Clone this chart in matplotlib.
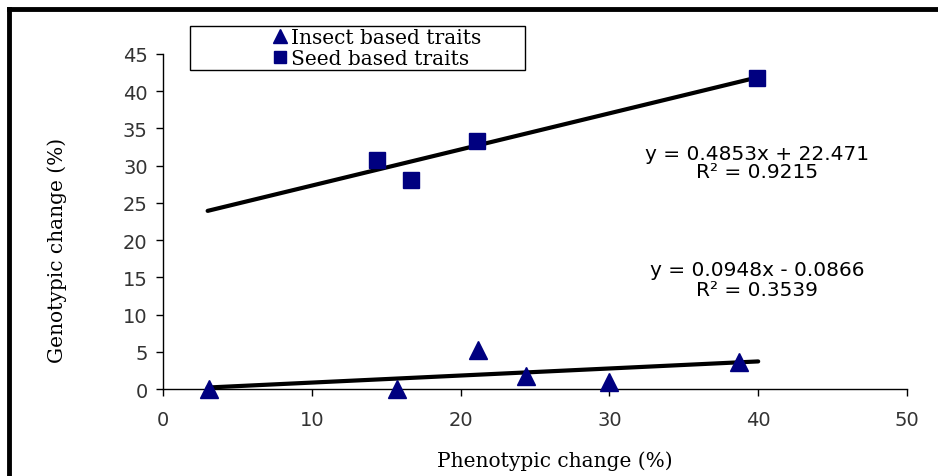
import matplotlib
matplotlib.use("Agg")
import matplotlib.pyplot as plt
from matplotlib.lines import Line2D
from matplotlib.patches import Rectangle
import numpy as np

# Data
insect_x = [3.1, 15.7, 21.2, 24.4, 30.0, 38.7]
insect_y = [0.0, 0.0, 5.2, 1.7, 0.9, 3.6]
seed_x = [14.4, 16.7, 21.1, 39.9]
seed_y = [30.8, 28.1, 33.3, 41.8]
seed_fit = (0.4853, 22.471)
insect_fit = (0.0948, -0.0866)
fit_range = [3, 40]
x_ticks = [0, 10, 20, 30, 40, 50]
y_ticks = [0, 5, 10, 15, 20, 25, 30, 35, 40, 45]

navy = "#000080"
tick_font = "DejaVu Sans"
label_font = "DejaVu Serif"

fig = plt.figure(figsize=(9.38, 4.77), dpi=100)
ax = fig.add_axes([163/938, 1-390/477, (907-163)/938, (390-55)/477])

# outer border lines (top and left)
fig.add_artist(Line2D([9/938, 9/938], [0, 1-10/477], color="black", lw=3.5, transform=fig.transFigure))
fig.add_artist(Line2D([9/938, 1], [1-10/477, 1-10/477], color="black", lw=3.5, transform=fig.transFigure))

ax.plot(insect_x, insect_y, linestyle="none", marker="^", color=navy, markersize=13, clip_on=False, zorder=3)
ax.plot(seed_x, seed_y, linestyle="none", marker="s", color=navy, markersize=12, clip_on=False, zorder=3)

fx = np.array(fit_range, dtype=float)
ax.plot(fx, seed_fit[0]*fx + seed_fit[1], color="black", lw=3, solid_capstyle="round", zorder=2)
ax.plot(fx, insect_fit[0]*fx + insect_fit[1], color="black", lw=3, solid_capstyle="round", zorder=2)

ax.set_xlim(0, 50)
ax.set_ylim(0, 45)
ax.set_xticks(x_ticks)
ax.set_yticks(y_ticks)
ax.spines["top"].set_visible(False)
ax.spines["right"].set_visible(False)
for s in ["left", "bottom"]:
    ax.spines[s].set_linewidth(1.0)
ax.tick_params(direction="out", length=5, width=1, labelsize=14, pad=6)
for lab in ax.get_xticklabels() + ax.get_yticklabels():
    lab.set_fontfamily(tick_font)
    lab.set_color("#333333")
ax.tick_params(axis="x", pad=10)

fig.text(555/938, 1-461/477, "Phenotypic change (%)", ha="center", va="center",
         fontsize=14.5, family=label_font)
fig.text(57/938, 1-250/477, "Genotypic change (%)", ha="center", va="center",
         fontsize=14.5, family=label_font, rotation=90)

eq_size = 14.5
fig.text(757/938, 1-155/477, "y = 0.4853x + 22.471", ha="center", va="center", fontsize=eq_size, family=tick_font)
fig.text(757/938, 1-173/477, "R² = 0.9215", ha="center", va="center", fontsize=eq_size, family=tick_font)
fig.text(757/938, 1-270/477, "y = 0.0948x - 0.0866", ha="center", va="center", fontsize=eq_size, family=tick_font)
fig.text(757/938, 1-291/477, "R² = 0.3539", ha="center", va="center", fontsize=eq_size, family=tick_font)

# legend frame
fig.add_artist(Rectangle((190/938, 1-71/477), (525-190)/938, (71-27)/477,
                         transform=fig.transFigure, fill=False, edgecolor="black", lw=1.0))
handles = [Line2D([], [], linestyle="none", marker="^", color=navy, markersize=10),
           Line2D([], [], linestyle="none", marker="s", color=navy, markersize=9)]
leg = fig.legend(handles, ["Insect based traits", "Seed based traits"],
                 loc="upper left", bbox_to_anchor=(268/938, 1-27/477),
                 frameon=False, prop={"family": label_font, "size": 14.5}, handletextpad=0.05,
                 borderpad=0.1, labelspacing=0.12, handlelength=1.0,
                 borderaxespad=0)

fig.savefig("out.png", dpi=100)
